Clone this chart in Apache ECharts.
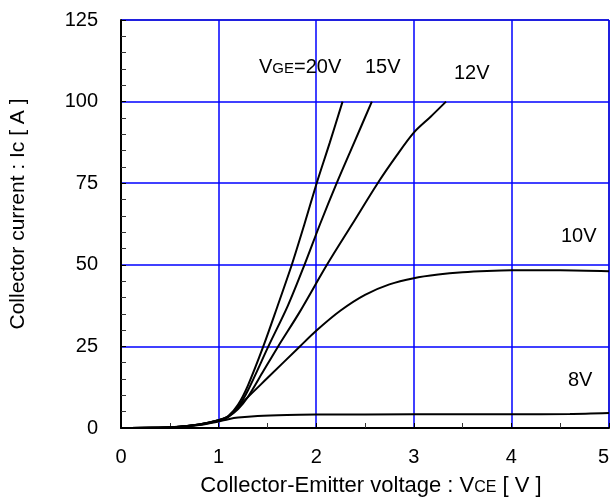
<!DOCTYPE html>
<html><head><meta charset="utf-8">
<script src="https://cdn.jsdelivr.net/npm/echarts@6/dist/echarts.min.js"></script>
<style>html,body{margin:0;padding:0;background:#fff;overflow:hidden}#c{width:612px;height:503px}</style>
</head><body><div id="c"></div>
<script>
const xTicks = [0,1,2,3,4,5];
const yTicks = [0,25,50,75,100,125];
const vge20 = [[0,0],[0.3,0.05],[0.6,0.4],[0.8,1.1],[1.0,2.4],[1.1,3.7],[1.2,7.2],[1.3,13],[1.458,25],[1.6,37],[1.75,50],[1.88,62.5],[2.005,75],[2.14,87.5],[2.27,100]];
const vge15 = [[0,0],[0.3,0.05],[0.6,0.4],[0.8,1.1],[1.0,2.4],[1.1,3.6],[1.2,6.5],[1.3,11.5],[1.51,25],[1.71,37.5],[1.88,50],[2.04,62.5],[2.21,75],[2.39,87.5],[2.57,100]];
const vge12 = [[0,0],[0.3,0.05],[0.6,0.4],[0.8,1.1],[1.0,2.4],[1.1,3.5],[1.2,5.8],[1.3,9.5],[1.45,17],[1.61,25],[1.83,35.5],[2.11,50],[2.37,62.5],[2.63,75],[2.82,83.3],[3.0,90.5],[3.17,95.3],[3.33,100]];
const vge10 = [[0,0],[0.3,0.05],[0.6,0.4],[0.8,1.0],[1.0,2.2],[1.1,3.4],[1.25,8],[1.5,15.3],[1.83,24.9],[2.0,29.8],[2.25,36],[2.5,40.8],[2.75,44],[3.0,45.9],[3.25,47],[3.5,47.7],[3.75,48.1],[4.0,48.3],[4.5,48.3],[5.0,48.0]];
const vge8 = [[0,0],[0.3,0.05],[0.6,0.4],[0.8,0.9],[1.0,2.0],[1.1,2.7],[1.2,3.2],[1.4,3.7],[1.7,4.0],[2.0,4.1],[3.0,4.2],[4.0,4.2],[4.6,4.3],[5.0,4.6]];
const curveLabels = [
  {x:259, y:68, text:'{v|V}{s|GE}{v|=20V}'},
  {x:365, y:68, text:'15V'},
  {x:454, y:74, text:'12V'},
  {x:561, y:237, text:'10V'},
  {x:568, y:381, text:'8V'}
];
const FONT = '"Liberation Sans", Arial, sans-serif';
const chart = echarts.init(document.getElementById('c'));
function mk(name, data){
  return {name, type:'line', data, showSymbol:false, smooth:0.3, lineStyle:{color:'#000', width:2}, itemStyle:{color:'#000'}, silent:true, animation:false, z:5};
}
chart.setOption({
  animation:false,
  backgroundColor:'#fff',
  grid:{left:121, right:3, top:20, bottom:75, outerBoundsMode:'none', containLabel:false, show:true, borderColor:'#000', borderWidth:1, backgroundColor:'transparent'},
  xAxis:{type:'value', min:0, max:5, interval:1,
    name:'{t|Collector-Emitter voltage : V}{s|CE}{t| [ V ]}', nameLocation:'middle', nameGap:47,
    nameTextStyle:{padding:[0,0,0,12], rich:{t:{fontSize:22, fontFamily:FONT, color:'#000'}, s:{fontSize:16, fontFamily:FONT, color:'#000', padding:[3,0,0,0]}}},
    axisLine:{show:true, onZero:false, lineStyle:{color:'#000', width:2}},
    axisTick:{show:true, inside:true, length:5, lineStyle:{color:'#000'}},
    minorTick:{show:true, splitNumber:2, length:5, lineStyle:{color:'#333'}},
    splitLine:{show:true, lineStyle:{color:'#0000ff', width:1.5}},
    axisLabel:{margin:19, fontSize:20, fontFamily:FONT, color:'#000', alignMaxLabel:'right', formatter:v=>xTicks.includes(v)?String(v):''}
  },
  yAxis:{type:'value', min:0, max:125, interval:25,
    name:'Collector current : Ic [ A ]', nameLocation:'middle', nameGap:92, nameRotate:90,
    nameTextStyle:{fontSize:21, fontFamily:FONT, color:'#000', padding:[0,0,0,20]},
    axisLine:{show:true, onZero:false, lineStyle:{color:'#000', width:2}},
    axisTick:{show:true, inside:true, length:5, lineStyle:{color:'#000'}},
    minorTick:{show:true, splitNumber:5, length:5, lineStyle:{color:'#333'}},
    splitLine:{show:true, lineStyle:{color:'#0000ff', width:1.5}},
    axisLabel:{margin:23, fontSize:20, fontFamily:FONT, color:'#000', formatter:v=>yTicks.includes(v)?String(v):''}
  },
  series:[mk('20V',vge20), mk('15V',vge15), mk('12V',vge12), mk('10V',vge10), mk('8V',vge8)],
  graphic: curveLabels.map(l=>({type:'text', left:l.x, top:l.y-11, z:10,
    style:{text:l.text, fontSize:20, fontFamily:FONT, fill:'#000',
      rich:{v:{fontSize:20, fontFamily:FONT, fill:'#000'}, s:{fontSize:15, fontFamily:FONT, fill:'#000', padding:[3,0,0,0]}}}}))
});
</script></body></html>
